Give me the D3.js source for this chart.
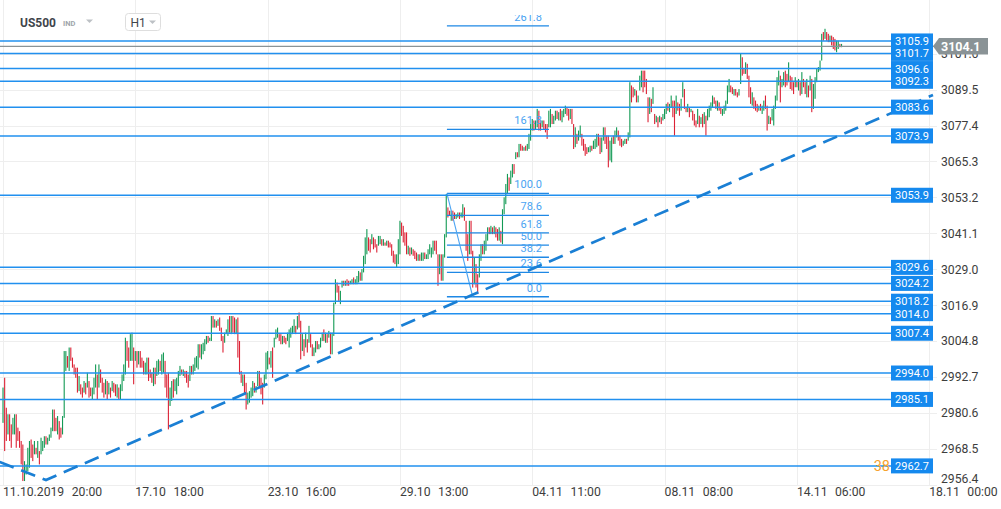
<!DOCTYPE html>
<html><head><meta charset="utf-8">
<script src="https://cdn.jsdelivr.net/npm/d3@7"></script>
<style>html,body{margin:0;padding:0;background:#fff;overflow:hidden}svg{display:block;font-family:Roboto,"Noto Sans",Arial,sans-serif}</style>
</head><body><svg id="c" width="1001" height="509"></svg>
<script>
// ---------- data ----------
const symbolName = "US500", symbolType = "IND", intervalName = "H1";
const yTickValues = [2956.4, 2968.5, 2980.6, 2992.7, 3004.8, 3016.9, 3029.0, 3041.1, 3053.2, 3065.3, 3077.4, 3089.5, 3101.6];
const tickDates = ["11.10.2019", "17.10", "23.10", "29.10", "04.11", "08.11", "14.11", "18.11"];
const tickTimes = ["20:00", "18:00", "16:00", "13:00", "11:00", "08:00", "06:00", "00:00"];
const tickIndex = [0, 80, 160, 240, 320, 400, 480, 560];
const levelPrices = [3105.9, 3101.7, 3096.6, 3092.3, 3083.6, 3073.9, 3053.9, 3029.6, 3024.2, 3018.2, 3014.0, 3007.4, 2994.0, 2985.1, 2962.7];
const lastPrice = 3104.1;
const alertLabel = "38", alertPrice = 2962.7;
const fibRatios = [0, 23.6, 38.2, 50.0, 61.8, 78.6, 100.0, 161.8, 261.8];
const fibStartIdx = 268.4, fibEndIdx = 330.1, fibLowIdx = 284.0;
const fibHighPrice = 3054.56, fibLowPrice = 3019.7;
const trendIdx = [-2, 26, 562.3];
const trendPrice = [2964.0, 2957.95, 3087.7];

const candleHigh = [
2989.1,2992.4,2982.3,2980.1,2980.1,2976.7,2978.9,2980.1,2980.1,2975.6,
2974.4,2971.1,2969.9,2964.3,2963.2,2968.8,2971.1,2971.6,2969.9,2971.1,
2968.8,2971.1,2967.7,2972.2,2971.1,2972.7,2972.7,2972.2,2973.3,2975.6,
2981.7,2981.7,2978.9,2979.5,2977.8,2975.6,2979.5,3001.4,3001.4,2999.7,
3002.6,3002.6,2999.2,2996.9,2995.8,2995.8,2993.0,2990.2,2989.1,2991.3,
2990.7,2994.1,2991.3,2989.1,2989.1,2992.4,2996.9,2993.5,2996.9,2995.2,
2992.4,2990.7,2991.9,2991.3,2990.7,2989.1,2991.3,2990.7,2990.2,2990.2,
2989.1,2990.2,2993.5,2996.9,3005.9,3004.8,3002.6,3007.1,3007.6,3002.6,
3001.4,3001.4,3001.4,3001.4,2999.2,2998.1,2997.5,2999.2,2999.2,2995.2,
2994.1,2995.8,2995.8,2998.1,2998.6,2998.1,3000.3,3000.9,2998.1,2993.5,
2994.1,2989.1,2991.3,2991.9,2991.9,2992.4,2994.7,2996.4,2995.2,2995.2,
2994.7,2994.7,2993.5,2996.4,2996.4,2996.9,2999.2,2999.7,3003.7,3003.7,
3003.7,3004.2,3005.4,3006.5,3006.5,3005.9,3013.2,3013.2,3012.1,3011.6,
3012.1,3012.7,3009.3,3006.5,3007.6,3008.7,3012.1,3013.2,3013.2,3013.2,
3012.7,3012.1,3012.7,3004.8,2994.7,2993.5,2993.5,2990.7,2987.4,2987.9,
2989.1,2991.3,2990.7,2989.6,2994.7,2994.7,2992.4,2990.7,2993.5,3000.9,
3001.4,2999.2,3001.4,3002.6,3005.9,3008.7,3009.3,3007.1,3007.1,3006.5,
3006.5,3005.9,3007.6,3008.7,3009.3,3009.9,3012.1,3009.9,3013.2,3014.4,
3011.6,3007.1,3005.4,3007.6,3005.4,3009.9,3007.1,3003.7,3002.6,3004.8,
3004.8,3003.7,3005.9,3007.6,3008.7,3007.6,3007.1,3008.2,3007.6,3007.6,
3017.7,3025.6,3024.5,3023.4,3021.7,3025.1,3025.1,3025.1,3025.6,3025.1,
3025.1,3025.6,3026.2,3025.6,3026.7,3028.4,3027.9,3029.0,3033.5,3039.7,
3042.5,3039.7,3039.1,3040.8,3039.7,3039.1,3037.4,3040.2,3040.2,3039.1,
3039.1,3038.0,3038.6,3038.6,3038.0,3037.4,3035.2,3034.0,3034.0,3039.1,
3045.3,3044.7,3043.6,3041.4,3041.4,3036.9,3036.3,3036.3,3035.7,3035.2,
3034.6,3034.0,3034.0,3034.6,3034.6,3034.6,3034.0,3035.7,3037.4,
3036.3,3038.6,3038.6,3038.6,3034.0,3034.0,3034.0,3034.0,3040.8,3054.3,
3049.8,3048.7,3048.7,3048.7,3048.1,3047.5,3048.1,3048.1,3048.1,3050.9,
3049.8,3045.3,3040.8,3045.3,3045.3,3035.2,3032.9,3030.7,3027.3,3034.0,
3037.4,3037.4,3038.6,3040.8,3043.1,3043.1,3043.6,3043.1,3043.6,3043.1,
3042.5,3043.1,3041.9,3049.2,3053.2,3057.7,3061.1,3059.9,3062.2,3064.4,
3064.4,3068.4,3068.4,3071.2,3071.2,3070.6,3070.1,3070.6,3071.2,3074.6,
3077.9,3079.6,3079.1,3079.1,3083.0,3082.4,3079.1,3079.1,3079.1,3077.9,
3077.9,3082.4,3083.0,3081.3,3080.7,3082.4,3082.4,3081.9,3083.0,3082.4,
3083.0,3084.1,3083.6,3083.0,3083.0,3083.0,3077.9,3076.8,3074.6,3075.7,
3077.4,3074.6,3072.9,3071.2,3070.1,3070.1,3070.6,3070.6,3072.3,3072.9,
3074.6,3074.6,3073.4,3073.4,3076.8,3076.8,3074.0,3074.0,3072.3,3073.4,
3074.0,3075.7,3076.8,3075.7,3074.0,3072.9,3072.3,3072.9,3072.9,3075.1,
3092.0,3090.9,3090.3,3089.7,3089.2,3087.5,3094.2,3095.9,3095.9,3095.9,
3093.1,3086.9,3086.9,3086.4,3090.3,3081.3,3080.7,3080.2,3080.7,3080.2,
3081.3,3083.0,3084.7,3085.2,3084.7,3087.5,3085.8,3085.8,3087.5,3085.2,
3084.7,3086.4,3092.0,3089.7,3083.6,3084.7,3083.6,3083.0,3082.4,3081.3,
3079.1,3083.0,3080.7,3080.2,3081.3,3081.9,3080.7,3083.0,3084.1,3085.2,
3087.5,3086.9,3085.8,3085.8,3085.2,3083.6,3083.0,3084.1,3085.8,3090.9,
3093.1,3090.9,3090.3,3089.7,3089.7,3088.6,3089.7,3101.6,3100.4,3096.5,
3098.7,3098.2,3094.2,3090.3,3088.6,3086.9,3085.8,3084.7,3084.1,3084.7,
3084.1,3085.8,3087.5,3084.1,3080.7,3080.2,3083.0,3084.1,3087.5,3093.7,
3095.9,3094.2,3093.1,3095.4,3095.9,3094.8,3098.7,3094.2,3093.7,3092.0,
3093.7,3092.5,3093.1,3092.0,3095.4,3093.1,3092.0,3093.1,3090.9,3094.2,
3093.1,3091.4,3093.7,3096.5,3097.1,3099.3,3108.3,3108.9,3110.0,3108.9,
3108.3,3107.7,3107.7,3107.2,3106.6,3106.0,3106.0,3104.9,3104.9
];
const candleLow = [
2977.2,2967.7,2971.1,2973.3,2971.1,2968.8,2973.3,2973.3,2968.8,2971.1,
2968.8,2963.2,2957.6,2957.6,2959.8,2960.9,2962.1,2965.4,2964.3,2966.6,
2966.6,2965.4,2963.2,2966.6,2967.7,2968.8,2969.9,2969.9,2971.1,2972.2,
2974.4,2974.4,2974.4,2973.3,2971.6,2972.2,2973.3,2978.9,2994.7,2995.8,
2994.7,2998.1,2995.8,2993.5,2992.4,2987.4,2987.9,2986.8,2985.7,2987.4,
2986.8,2989.1,2985.7,2986.2,2985.1,2986.8,2989.1,2985.1,2989.1,2990.7,
2987.4,2985.7,2986.8,2985.1,2986.8,2985.7,2987.9,2987.4,2986.2,2985.7,
2985.1,2985.1,2987.9,2991.3,2993.5,2998.1,2995.8,2998.1,2998.1,2990.2,
2998.1,2995.8,2996.9,2995.8,2995.8,2993.5,2993.5,2993.5,2991.3,2992.4,
2990.7,2989.6,2990.2,2993.0,2993.5,2994.7,2993.5,2994.1,2989.1,2985.7,
2975.0,2982.9,2984.6,2985.7,2987.9,2986.8,2989.6,2993.0,2993.5,2993.0,
2992.4,2990.7,2989.1,2991.3,2993.5,2993.5,2994.7,2995.8,2995.2,2999.2,
2998.6,3000.3,3001.4,3003.7,3004.2,3004.8,3004.8,3009.3,3009.3,3009.3,
3009.9,3008.2,3004.8,3000.9,3004.2,3007.1,3006.5,3007.6,3007.1,3007.6,
3007.1,3007.1,2999.2,2993.5,2990.7,2989.6,2986.8,2981.7,2983.4,2984.0,
2985.7,2986.2,2987.4,2987.4,2989.6,2989.1,2986.8,2983.4,2989.1,2991.9,
2995.2,2996.9,2995.8,2992.4,3002.6,3005.4,3005.9,3004.8,3003.7,3003.7,
3004.2,3003.7,3004.8,3002.6,3005.9,3007.1,3007.6,3007.1,3008.7,3009.3,
2998.6,3001.4,2999.7,3002.6,3000.9,3004.2,3002.6,2999.7,2999.7,3000.9,
3002.0,3002.0,3002.6,3004.8,3004.8,3004.2,3004.2,3005.9,3000.3,3000.3,
3006.5,3017.2,3021.1,3018.3,3017.2,3022.8,3023.4,3023.4,3023.4,3023.4,
3023.9,3023.9,3023.9,3023.9,3023.9,3024.5,3025.1,3025.1,3027.9,3030.7,
3034.0,3035.2,3034.6,3037.4,3035.7,3036.3,3034.6,3036.9,3037.4,3036.9,
3036.9,3036.9,3036.9,3036.3,3036.3,3033.5,3031.2,3030.7,3029.6,3030.7,
3034.0,3040.2,3038.0,3036.9,3034.0,3034.0,3033.5,3034.0,3033.5,3032.4,
3031.8,3031.8,3031.8,3031.8,3031.8,3032.4,3032.4,3032.4,3034.0,
3032.9,3034.0,3035.2,3034.0,3023.4,3027.3,3025.1,3025.1,3032.9,3039.7,
3046.4,3047.0,3045.3,3045.3,3045.9,3045.9,3046.4,3045.9,3046.4,3046.4,
3045.3,3035.2,3031.8,3034.0,3034.0,3022.8,3023.9,3022.8,3020.6,3026.2,
3031.8,3034.0,3034.0,3035.2,3038.6,3040.8,3040.8,3040.8,3040.8,3039.7,
3038.6,3038.6,3038.0,3037.4,3047.5,3050.9,3054.3,3055.4,3057.7,3059.9,
3061.1,3066.1,3066.7,3066.7,3068.9,3068.9,3068.9,3068.9,3068.9,3069.5,
3072.3,3075.7,3075.7,3076.2,3076.8,3075.7,3075.7,3076.8,3076.2,3075.1,
3072.9,3076.8,3076.8,3077.9,3077.9,3079.1,3079.6,3079.1,3079.1,3078.5,
3080.2,3081.3,3080.7,3079.1,3079.6,3077.9,3069.5,3070.1,3071.2,3072.3,
3073.4,3070.6,3068.9,3067.2,3067.8,3068.4,3068.4,3068.9,3069.5,3069.5,
3070.1,3070.6,3067.8,3068.4,3072.3,3071.2,3069.5,3063.3,3065.6,3065.0,
3071.2,3071.2,3073.4,3072.3,3070.6,3070.1,3070.6,3071.2,3071.2,3072.3,
3073.4,3085.2,3086.9,3087.5,3085.2,3085.2,3089.2,3090.3,3088.6,3090.3,
3088.0,3078.5,3081.3,3081.9,3084.7,3077.9,3078.5,3076.8,3078.5,3077.9,
3079.1,3079.6,3081.3,3082.4,3081.9,3083.6,3080.2,3074.0,3081.3,3082.4,
3080.7,3082.4,3086.9,3083.0,3081.9,3081.9,3080.2,3081.9,3079.1,3077.4,
3076.8,3077.9,3076.8,3077.9,3076.8,3077.9,3074.0,3079.1,3080.2,3082.4,
3083.6,3084.7,3083.0,3082.4,3082.4,3081.3,3080.7,3081.3,3082.4,3084.7,
3088.6,3088.6,3088.0,3087.5,3087.5,3086.9,3087.5,3091.4,3094.2,3094.8,
3094.8,3093.1,3086.9,3084.7,3084.1,3083.0,3082.4,3081.9,3082.4,3082.4,
3081.3,3082.4,3083.0,3075.7,3077.9,3077.9,3079.1,3077.4,3083.0,3085.8,
3090.9,3085.2,3090.3,3090.9,3090.3,3090.9,3092.0,3089.7,3089.2,3088.0,
3090.3,3090.3,3089.2,3087.5,3088.0,3090.3,3088.0,3086.9,3086.9,3089.2,
3081.9,3083.0,3086.4,3092.0,3095.4,3095.9,3099.3,3106.0,3106.6,3106.0,
3105.5,3105.5,3104.4,3103.2,3102.7,3102.1,3103.2,3103.8,3103.8
];
const candleDir = [
"uddudduudd","ddduuuuddu","duduuuduuu","uddudduuud","uddddduddu","dudduuudud",
"ddudududdu","duuuudduud","ududdduudd","duduuduudd","duuduuuudu","ddduduuuud",
"uuuuduudud","uddduuudud","dudddudduu","uuduuddduu","ududuuuddu","dduuuuudud",
"dudududduu","duuudududu","uudduududd","uuduuuduuu","udduddduud","ududdddduu",
"uddddududd","duduuduuu",
"uuddduduuu","ddudduuduu","dddudduddu","uduuududud","duduuuuduu","dududduduu",
"uuduuddudd","duuduududu","uudduddudu","udddduuduu","udduuddduu","duuddduudu",
"udduduuudd","ddudududud","uuuduuddud","duuddududd","dudududuuu","uddudduuuu",
"uddudduudd","udddudddud","uudduduuuu","uduudduddd","udududdudu","duuuuuudud",
"duddduudu"
].join("");

// ---------- layout ----------
const W = 1001, H = 509, plotBottom = 484, plotRight = 929.2;
const svg = d3.select("#c");
const x = d3.scaleLinear().domain([0, 560]).range([3, plotRight]);
const y = d3.scaleLinear().domain([2956.6, 3119.7]).range([plotBottom, 0]);

const defs = svg.append("defs");
defs.append("clipPath").attr("id", "plotClip").append("rect").attr("x", 0).attr("y", 0).attr("width", 936).attr("height", plotBottom);
defs.append("clipPath").attr("id", "fibClip").append("rect").attr("x", 0).attr("y", 15).attr("width", 936).attr("height", plotBottom - 15);

// grid
const grid = svg.append("g");
grid.selectAll("line.h").data(yTickValues).join("line")
  .attr("x1", 0).attr("x2", 937).attr("y1", d => Math.round(y(d)) + 0.5).attr("y2", d => Math.round(y(d)) + 0.5)
  .attr("stroke", "#eeeeee").attr("stroke-width", 1);
grid.selectAll("line.v").data(tickIndex).join("line")
  .attr("x1", d => Math.round(x(d)) + 0.5).attr("x2", d => Math.round(x(d)) + 0.5)
  .attr("y1", 0).attr("y2", plotBottom + 2)
  .attr("stroke", "#eeeeee").attr("stroke-width", 1);

// candles
const n = Math.min(candleHigh.length, candleLow.length);
const candles = d3.range(n).map(i => ({i, h: Math.max(candleHigh[i], candleLow[i]), l: Math.min(candleHigh[i], candleLow[i]), up: candleDir[i] !== "d"}));
svg.append("g").attr("clip-path", "url(#plotClip)")
  .selectAll("rect").data(candles).join("rect")
  .attr("x", d => x(d.i) - 0.55).attr("width", 1.1)
  .attr("y", d => y(d.h)).attr("height", d => Math.max(1, y(d.l) - y(d.h)))
  .attr("fill", d => d.up ? "#139a55" : "#dc2235");

// fibonacci retracement
const fibG = svg.append("g").attr("clip-path", "url(#fibClip)");
const fibPrice = r => fibLowPrice + (fibHighPrice - fibLowPrice) * r / 100;
fibG.selectAll("line").data(fibRatios).join("line")
  .attr("x1", x(fibStartIdx)).attr("x2", x(fibEndIdx))
  .attr("y1", d => y(fibPrice(d))).attr("y2", d => y(fibPrice(d)))
  .attr("stroke", "#1e88e5").attr("stroke-width", 1.3);
fibG.append("line")
  .attr("x1", x(fibStartIdx)).attr("y1", y(fibHighPrice))
  .attr("x2", x(fibLowIdx)).attr("y2", y(fibLowPrice))
  .attr("stroke", "#4aa3f2").attr("stroke-width", 1.1);
fibG.selectAll("text").data(fibRatios).join("text")
  .attr("x", x(fibEndIdx) - 7).attr("y", d => y(fibPrice(d)) - 5)
  .attr("text-anchor", "end").attr("font-size", 11).attr("fill", "#4aa3f2")
  .text(d => d.toFixed(1));

// horizontal levels
const lv = svg.append("g");
lv.selectAll("line").data(levelPrices).join("line")
  .attr("x1", 0).attr("x2", 891).attr("y1", d => y(d)).attr("y2", d => y(d))
  .attr("stroke", "#2190ef").attr("stroke-width", 1.5);

// current price line
svg.append("line").attr("x1", 0).attr("x2", 934).attr("y1", y(lastPrice)).attr("y2", y(lastPrice))
  .attr("stroke", "#8a9396").attr("stroke-width", 1.2);

// dashed trend line
const trendPts = trendIdx.map((d, k) => [x(d), y(trendPrice[k])]);
svg.append("g").attr("clip-path", "url(#plotClip)").append("path")
  .attr("d", d3.line()(trendPts)).attr("fill", "none")
  .attr("stroke", "#1a7fd4").attr("stroke-width", 2.7).attr("stroke-dasharray", "15 8");

// y axis labels
const ya = svg.append("g");
ya.selectAll("text").data(yTickValues).join("text")
  .attr("x", 941).attr("y", d => Math.min(y(d) + 4.5, 482.5))
  .attr("font-size", 12.2).attr("fill", "#3d3d3d")
  .text(d => d.toFixed(1));

// level label boxes
const lb = svg.append("g");
lb.selectAll("rect").data(levelPrices).join("rect")
  .attr("x", 891).attr("width", 42).attr("y", d => y(d) - 7.5).attr("height", 15)
  .attr("fill", "#1589ee");
lb.selectAll("text").data(levelPrices).join("text")
  .attr("x", 912).attr("y", d => y(d) + 4).attr("text-anchor", "middle")
  .attr("font-size", 11).attr("fill", "#ffffff").text(d => d.toFixed(1));

// alert label
svg.append("text").attr("x", 890).attr("y", y(alertPrice) + 5.5).attr("text-anchor", "end")
  .attr("font-size", 14.5).attr("fill", "#f6a12e").text(alertLabel);

// current price tag
const py = y(lastPrice);
svg.append("path")
  .attr("d", `M933,${py} L939,${py - 8.3} L988,${py - 8.3} L988,${py + 8.3} L939,${py + 8.3} Z`)
  .attr("fill", "#8a9396");
svg.append("text").attr("x", 941).attr("y", py + 4.5).attr("font-size", 12.5).attr("font-weight", "bold")
  .attr("fill", "#ffffff").text(lastPrice.toFixed(1));

// x axis labels
const xa = svg.append("g");
tickIndex.forEach((d, k) => {
  const t = xa.append("text").attr("x", x(d)).attr("y", 496).attr("font-size", 12.2).attr("fill", "#3d3d3d");
  t.append("tspan").text(tickDates[k]);
  t.append("tspan").attr("dx", 7.5).text(tickTimes[k]);
});

// header
const hd = svg.append("g");
hd.append("text").attr("x", 20).attr("y", 26.5).attr("font-size", 12).attr("font-weight", "bold").attr("fill", "#3f454b").text(symbolName);
hd.append("text").attr("x", 63).attr("y", 25.5).attr("font-size", 7.5).attr("font-weight", "bold").attr("fill", "#a0a5aa").text(symbolType);
hd.append("path").attr("d", "M86,19.5 L93,19.5 L89.5,23 Z").attr("fill", "#bdc1c5");
hd.append("rect").attr("x", 125.5).attr("y", 13.5).attr("width", 35).attr("height", 17).attr("rx", 3)
  .attr("fill", "#ffffff").attr("stroke", "#dedede");
hd.append("text").attr("x", 130.5).attr("y", 26.5).attr("font-size", 12).attr("fill", "#3f454b").text(intervalName);
hd.append("path").attr("d", "M149,20.5 L156,20.5 L152.5,24 Z").attr("fill", "#bdc1c5");
</script>
</body></html>
